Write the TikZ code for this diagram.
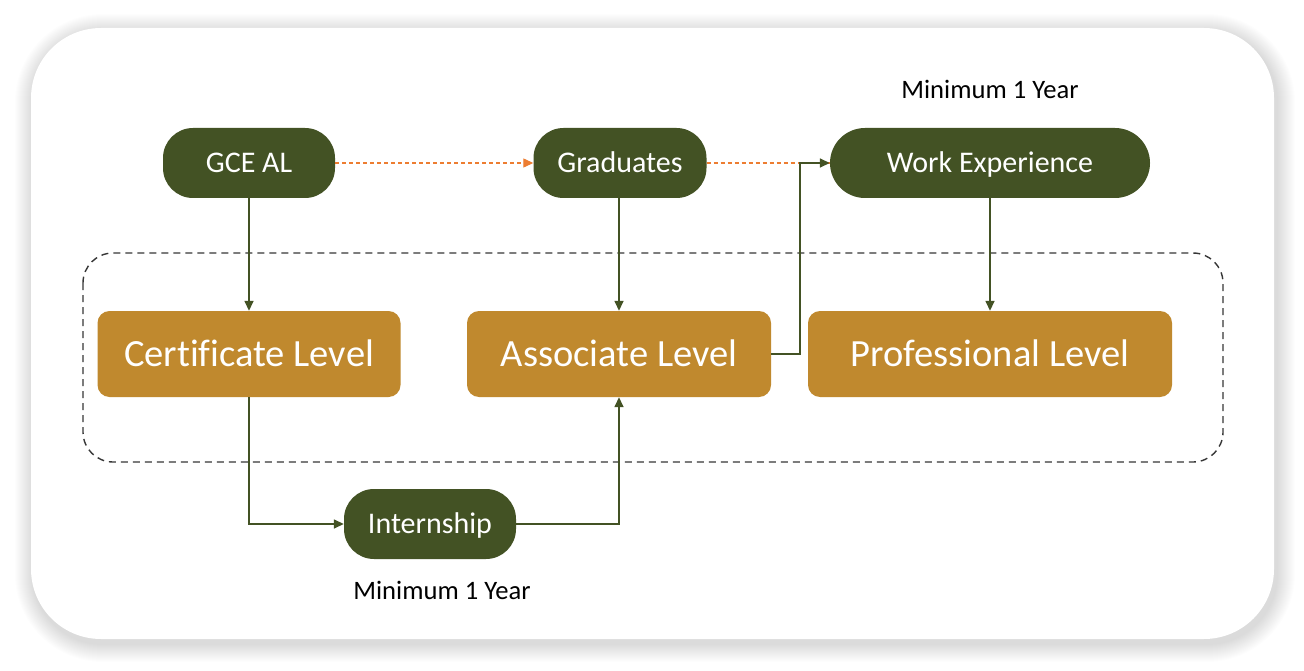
\documentclass[tikz,border=0pt]{standalone}
\usepackage{fontspec}
\setmainfont[Ligatures=NoCommon]{Carlito}
\usetikzlibrary{arrows.meta}
\definecolor{dgreen}{HTML}{435224}
\definecolor{gold}{HTML}{C0892E}
\definecolor{orng}{HTML}{ED7D31}
\definecolor{dashgray}{HTML}{363636}
\tikzset{
  pill/.style={fill=dgreen, text=white, rounded corners=30pt, minimum height=70pt, font=\fontsize{30}{36}\selectfont, inner sep=0pt, text height=19pt, text depth=0pt},
  levelbox/.style={fill=gold, text=white, rounded corners=12pt, minimum height=86pt, font=\fontsize{38.5}{46}\selectfont, inner sep=0pt, text height=24.5pt, text depth=0pt},
  conn/.style={draw=dgreen, line width=1.5pt, -{Triangle[length=10pt,width=9pt]}},
  orangedash/.style={draw=orng, line width=1.2pt, dash pattern=on 4pt off 3pt},
  note/.style={font=\fontsize{26.6}{32}\selectfont, text=black}
}
\begin{document}
\begin{tikzpicture}[x=1pt,y=-1pt]
\useasboundingbox (0,0) rectangle (1304,671);
\fill[white] (0,0) rectangle (1304,671);
% soft shadow
\foreach \i in {1,...,18}{
  \fill[black, opacity=0.007, rounded corners={70pt+\i pt}] (31-\i+2,28-\i+4) rectangle (1274+\i+3,639+\i+5);
}
\fill[white, rounded corners=70pt] (31,28) rectangle (1274,639);
% dashed group
\draw[dashgray, line width=1.4pt, dash pattern=on 7pt off 5pt, rounded corners=30pt] (83,253) rectangle (1223,462);
% nodes
\node[pill, minimum width=172pt] (gce) at (249,163) {GCE AL};
\node[pill, minimum width=173pt] (grad) at (620,163) {Graduates};
\node[pill, minimum width=320pt, rounded corners=35pt] (work) at (990,163) {Work Experience};
\node[pill, minimum width=172pt] (intern) at (430,524) {Internship};
\node[levelbox, minimum width=303pt] (cert) at (249,354) {Certificate Level};
\node[levelbox, minimum width=304pt] (assoc) at (619,354) {Associate Level};
\node[levelbox, minimum width=364pt] (prof) at (990,354) {Professional Level};
\node[note] (min1) at (990,89) {Minimum 1 Year};
\node[note] (min2) at (442,590) {Minimum 1 Year};
% connectors
\draw[orangedash, -{Triangle[length=10pt,width=9pt]}] (gce.east) -- (grad.west);
\draw[orangedash] (grad.east) -- (work.west);
\draw[conn] (gce.south) -- (cert.north);
\draw[conn] (grad.south -| assoc.north) -- (assoc.north);
\draw[conn] (work.south) -- (prof.north);
\coordinate (up) at (800,354);
\draw[conn] (assoc.east) -- (up) |- (work.west);
\draw[conn] (cert.south) |- (intern.west);
\draw[conn] (intern.east) -| (assoc.south);
\end{tikzpicture}
\end{document}
